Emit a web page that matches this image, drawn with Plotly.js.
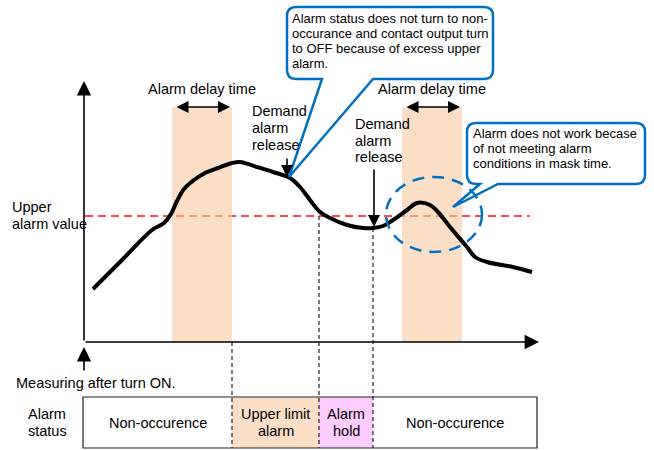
<!DOCTYPE html>
<html>
<head>
<meta charset="utf-8">
<script src="https://cdn.plot.ly/plotly-3.0.1.min.js"></script>
<style>
  html, body { margin: 0; padding: 0; background: #fff; }
  #chart { width: 654px; height: 450px; }
</style>
</head>
<body>
<div id="chart"></div>
<script>
// Measured value over time (arbitrary units, origin = axis corner)
const curveT = [9, 40, 68, 80, 87, 93, 100, 110, 121, 134, 148, 156, 173, 189, 206, 216, 226, 236, 246, 263, 279, 289, 299, 309, 323, 333, 346, 354, 366, 383, 391, 403, 429, 448];
const curveV = [53, 84, 112, 119, 128, 141, 153, 162, 169, 174, 179, 180, 175, 170, 164, 155, 142, 130, 124, 117, 114, 114, 116, 122, 132, 139, 137, 130, 115, 95, 85, 80, 75, 70];

const upperAlarmValue = 126;

// Alarm delay windows
const delayStart = [88, 318];
const delayEnd = [148, 378];

// Alarm status row
const statusBounds = [-1, 148, 235, 289, 453];
const statusLabels = [['Non-occurence'], ['Upper limit', 'alarm'], ['Alarm', 'hold'], ['Non-occurence']];

// Event markers: demand alarm release times
const releaseT = [203, 290];

const FONT = 'Liberation Sans, Arial, sans-serif';
const BLUE = '#0070c0';
const statusFills = ['#ffffff', '#fbdec6', '#ffccff', '#ffffff'];

// Multi-line text placed line by line, so spacing follows the picture
function textLines(lines, x, yTop, step, size, xanchor) {
    return lines.map((s, i) => ({
        x: x, y: yTop - i * step, xref: 'x', yref: 'y',
        text: s, showarrow: false, xanchor: xanchor, yanchor: 'middle',
        font: { family: FONT, size: size, color: '#000' }
    }));
}

function arrow(x, y, ax, ay, opts) {
    return Object.assign({
        x: x, y: y, ax: ax, ay: ay, xref: 'x', yref: 'y', axref: 'x', ayref: 'y',
        text: '', showarrow: true, arrowhead: 2, arrowsize: 1.6, arrowwidth: 1.6,
        arrowcolor: '#000', standoff: 0, startstandoff: 0
    }, opts || {});
}

// Rounded box with a pointer on its bottom edge
function calloutPath(x0, x1, yb, yt, b0, b1, tip, r) {
    return 'M ' + (x0 + r) + ',' + yt +
        ' L ' + (x1 - r) + ',' + yt + ' Q ' + x1 + ',' + yt + ' ' + x1 + ',' + (yt - r) +
        ' L ' + x1 + ',' + (yb + r) + ' Q ' + x1 + ',' + yb + ' ' + (x1 - r) + ',' + yb +
        ' L ' + b1 + ',' + yb + ' L ' + tip[0] + ',' + tip[1] + ' L ' + b0 + ',' + yb +
        ' L ' + (x0 + r) + ',' + yb + ' Q ' + x0 + ',' + yb + ' ' + x0 + ',' + (yb + r) +
        ' L ' + x0 + ',' + (yt - r) + ' Q ' + x0 + ',' + yt + ' ' + (x0 + r) + ',' + yt + ' Z';
}

function buildShapes() {
    const shapes = [];

    // Upper alarm threshold
    shapes.push({ type: 'line', xref: 'x', yref: 'y', x0: 1, x1: 446, y0: upperAlarmValue, y1: upperAlarmValue,
        layer: 'below', line: { color: '#ff4b4b', width: 2, dash: '8px,5px' } });

    // Delay bands (semi transparent so the threshold shows through)
    delayStart.forEach((s, i) => {
        shapes.push({ type: 'rect', xref: 'x', yref: 'y', x0: s, x1: delayEnd[i], y0: 0, y1: 235,
            layer: 'below', fillcolor: 'rgba(247,200,160,0.6)', line: { width: 0 } });
    });

    // Status cells
    statusLabels.forEach((lab, i) => {
        shapes.push({ type: 'rect', xref: 'x', yref: 'y', x0: statusBounds[i], x1: statusBounds[i + 1],
            y0: -106, y1: -55, layer: 'below', fillcolor: statusFills[i], line: { width: 0 } });
    });
    shapes.push({ type: 'rect', xref: 'x', yref: 'y', x0: statusBounds[0], x1: statusBounds[4],
        y0: -106, y1: -55, layer: 'below', line: { color: '#222', width: 1.2 } });

    // Dashed guides from events down through the status row
    const guideTop = [0, upperAlarmValue, 114];
    [statusBounds[1], statusBounds[2], statusBounds[3]].forEach((t, i) => {
        shapes.push({ type: 'line', xref: 'x', yref: 'y', x0: t, x1: t, y0: guideTop[i], y1: -106,
            layer: 'below', line: { color: '#222', width: 1.2, dash: '4px,3px' } });
    });

    // Callouts
    shapes.push({ type: 'path', xref: 'x', yref: 'y', layer: 'above', fillcolor: '#fff',
        path: calloutPath(203, 409, 263, 335, 238, 289, [205, 165], 9),
        line: { color: BLUE, width: 2.5 } });
    shapes.push({ type: 'path', xref: 'x', yref: 'y', layer: 'above', fillcolor: '#fff',
        path: calloutPath(383, 561, 158, 219, 396, 414, [369, 135], 9),
        line: { color: BLUE, width: 2.5 } });

    // Mask-time circle
    shapes.push({ type: 'circle', xref: 'x', yref: 'y', x0: 302, x1: 398, y0: 90, y1: 165,
        layer: 'above', line: { color: BLUE, width: 2.5, dash: '12px,8px' } });

    return shapes;
}

function buildAnnotations() {
    let ann = [];

    // Axes with arrowheads
    ann.push(arrow(0, 261, 0, 0, { arrowwidth: 1.6, arrowsize: 1.8 }));
    ann.push(arrow(455, 0, 0, 0, { arrowwidth: 1.6, arrowsize: 1.8 }));
    ann.push(arrow(0, -5, 0, -30, { arrowwidth: 1.6, arrowsize: 1.8 }));

    // Alarm delay time spans
    delayStart.forEach((s, i) => {
        ann.push(arrow(delayEnd[i] - 2, 235, s + 3, 235, { arrowside: 'end+start', arrowwidth: 1.6, arrowsize: 1.5 }));
        ann = ann.concat(textLines(['Alarm delay time'], (s + delayEnd[i]) / 2, 253, 0, 14.5, 'center'));
    });

    // Demand alarm release markers
    ann.push(arrow(releaseT[0], 165, releaseT[0], 185, { arrowsize: 1.5 }));
    ann.push(arrow(releaseT[1], 115, releaseT[1], 174, { arrowsize: 1.5 }));
    ann = ann.concat(textLines(['Demand', 'alarm', 'release'], 166, 231, 17, 14.5, 'left'));
    ann = ann.concat(textLines(['Demand', 'alarm', 'release'], 269, 218, 16.5, 14.5, 'left'));

    ann = ann.concat(textLines(['Upper', 'alarm value'], -74, 135, 17, 14.5, 'left'));
    ann = ann.concat(textLines(['Measuring after turn ON.'], -70, -41, 0, 14.5, 'left'));
    ann = ann.concat(textLines(['Alarm', 'status'], -37, -72, 17, 14.5, 'center'));

    statusLabels.forEach((lab, i) => {
        const mid = (statusBounds[i] + statusBounds[i + 1]) / 2;
        const top = lab.length === 1 ? -81 : -72;
        ann = ann.concat(textLines(lab, mid, top, 17, 14.5, 'center'));
    });

    // Callout texts
    ann = ann.concat(textLines(['Alarm status does not turn to non-', 'occurance and contact output turn',
        'to OFF because of excess upper', 'alarm.'], 206, 324, 15, 13, 'left'));
    ann = ann.concat(textLines(['Alarm does not work becase', 'of not meeting alarm',
        'conditions in mask time.'], 387, 209, 15, 13, 'left'));

    return ann;
}

function renderChart() {
    const trace = {
        x: curveT, y: curveV, mode: 'lines', type: 'scatter', hoverinfo: 'skip',
        line: { color: '#000', width: 4, shape: 'spline', smoothing: 1 }
    };

    const layout = {
        width: 654, height: 450,
        margin: { t: 0, b: 0, l: 0, r: 0 },
        paper_bgcolor: '#fff', plot_bgcolor: '#fff',
        showlegend: false,
        xaxis: { range: [-84, 570], visible: false, fixedrange: true },
        yaxis: { range: [-108, 342], visible: false, fixedrange: true },
        shapes: buildShapes(),
        annotations: buildAnnotations()
    };

    Plotly.newPlot('chart', [trace], layout, { displayModeBar: false, staticPlot: true });
}

renderChart();
</script>
</body>
</html>
